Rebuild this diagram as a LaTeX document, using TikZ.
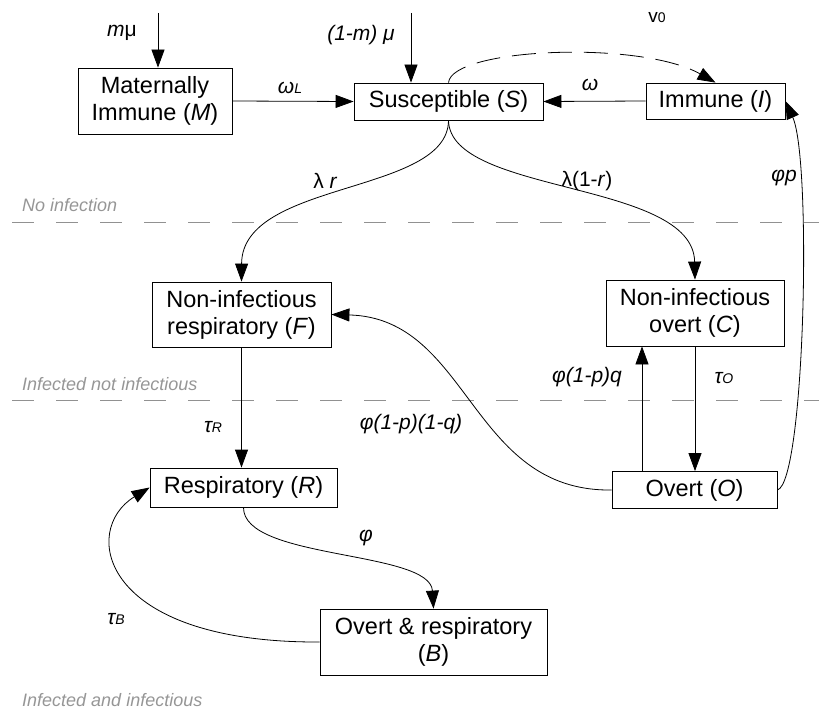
\documentclass[tikz,border=0pt]{standalone}
\usepackage{fontspec}
\setmainfont{Liberation Sans}
\usetikzlibrary{arrows.meta}
\definecolor{zonegray}{RGB}{150,150,150}
\definecolor{linegray}{RGB}{145,145,145}
\begin{document}
\begin{tikzpicture}[x=1pt,y=-1pt,
  box/.style={draw, line width=0.8pt, inner sep=0pt, align=center, font=\fontsize{23.5}{27}\selectfont},
  arr/.style={line width=0.8pt, -{Triangle[length=18pt,width=13pt]}},
  lab/.style={font=\fontsize{21}{24}\selectfont\itshape, inner sep=0pt},
  zone/.style={font=\fontsize{18}{21}\selectfont\itshape, text=zonegray, anchor=west, inner sep=0pt},
  sepline/.style={draw=linegray, line width=0.8pt, dash pattern=on 22pt off 22pt}]
\useasboundingbox (0,0) rectangle (819,717);

% separators
\coordinate (s1a) at (12,222); \coordinate (s1b) at (819,222);
\coordinate (s2a) at (12,400); \coordinate (s2b) at (819,400);
\draw[sepline] (s1a) -- (s1b);
\draw[sepline] (s2a) -- (s2b);
\node[zone] (z1) at (22,205) {No infection};
\node[zone] (z2) at (22,384) {Infected not infectious};
\node[zone] (z3) at (22,700) {Infected and infectious};

% boxes
\node[box, minimum width=154pt, minimum height=66pt] (M) at (155,101) {Maternally\\Immune (\textit{M})};
\node[box, minimum width=189pt, minimum height=37pt] (S) at (448.5,101.5) {Susceptible (\textit{S})};
\node[box, minimum width=139pt, minimum height=36pt] (I) at (715.5,101) {Immune (\textit{I})};
\node[box, minimum width=179pt, minimum height=65pt] (F) at (241.5,314.5) {Non-infectious\\respiratory (\textit{F})};
\node[box, minimum width=178pt, minimum height=66pt] (C) at (695,313) {Non-infectious\\overt (\textit{C})};
\node[box, minimum width=165pt, minimum height=37pt] (O) at (694.5,490) {Overt (\textit{O})};
\node[box, minimum width=187pt, minimum height=39pt] (R) at (243.5,487.5) {Respiratory (\textit{R})};
\node[box, minimum width=227pt, minimum height=66pt] (B) at (433.5,642) {Overt \& respiratory\\(\textit{B})};

% inflows
\coordinate (inM) at (158,13);
\coordinate (inS) at (411,13);
\draw[arr] (inM) -- (inM |- M.north);
\draw[arr] (inS) -- (inS |- S.north);

% top row
\draw[arr] (M.east) -- (S.west);
\draw[arr] (I.west) -- (S.east);
\draw[arr, dash pattern=on 24pt off 12pt] (S.north) .. controls (452,48) and (640,40) .. (I.north);
\draw[arr] (O.east) .. controls (805,482) and (812,160) .. (I.east);

% infection
\draw[arr] (S.south) .. controls (448,195) and (242,180) .. (F.north);
\draw[arr] (S.south) .. controls (450,195) and (693,180) .. (C.north);

% middle
\draw[arr] ([xshift=-52.5pt]O.north) -- ([xshift=-52.5pt]O.north |- C.south);
\draw[arr] (C.south) -- (C.south |- O.north);
\draw[arr] (O.west) .. controls (470,492) and (470,318) .. (F.east);
\draw[arr] (F.south) -- (F.south |- R.north);

% bottom
\draw[arr] (R.south) .. controls (243,560) and (430,550) .. (B.north);
\draw[arr] (B.west) .. controls (100,643) and (80,530) .. (R.west);

% labels
\node[lab] (lmu) at (122,33) {m\textup{μ}};
\node[lab] (l1mmu) at (361,35) {(1-m) μ};
\node[lab] (lomL) at (290,88) {ω{\fontsize{14}{14}\selectfont L}};
\node[lab] (lom) at (590,85) {ω};
\node[lab, font=\fontsize{19}{22}\selectfont] (lv0) at (657,18) {v{\fontsize{14}{14}\selectfont 0}};
\node[lab] (llr) at (325,181) {\textup{λ} r};
\node[lab] (ll1r) at (587,181) {\textup{λ(1-}r\textup{)}};
\node[lab] (lphip) at (784,178) {φp};
\node[lab] (lpq) at (587,377) {φ(1-p)q};
\node[lab] (ltauO) at (724,378) {τ{\fontsize{14}{14}\selectfont O}};
\node[lab] (lpqq) at (411,424) {φ(1-p)(1-q)};
\node[lab] (ltauR) at (213,427) {τ{\fontsize{14}{14}\selectfont R}};
\node[lab] (lphi) at (366,538) {φ};
\node[lab] (ltauB) at (116,619) {τ{\fontsize{14}{14}\selectfont B}};
\end{tikzpicture}
\end{document}
